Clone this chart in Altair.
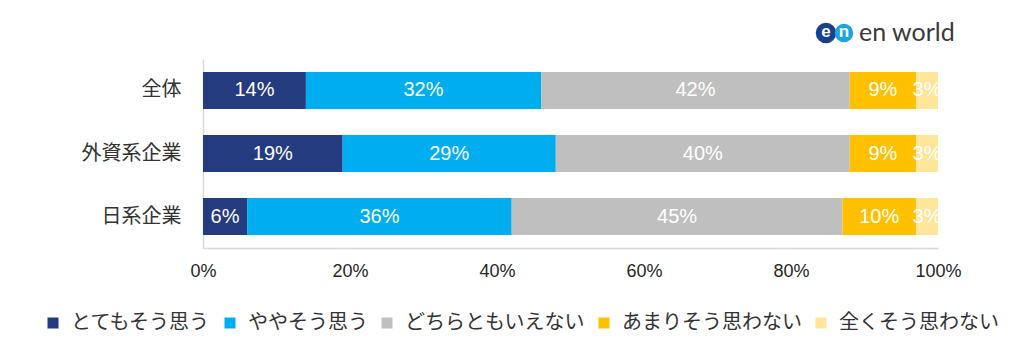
import altair as alt
import pandas as pd

categories = ["全体", "外資系企業", "日系企業"]
responses = ["とてもそう思う", "ややそう思う", "どちらともいえない", "あまりそう思わない", "全くそう思わない"]
vals_total = [14, 32, 42, 9, 3]
vals_foreign = [19, 29, 40, 9, 3]
vals_japan = [6, 36, 45, 10, 3]
colors = ["#253B80", "#00AEEF", "#BFBFBF", "#FFC000", "#FFE699"]
x_ticks = [0, 20, 40, 60, 80, 100]

rows = []
for cat, vals in zip(categories, [vals_total, vals_foreign, vals_japan]):
    for i, (r, v) in enumerate(zip(responses, vals)):
        rows.append({"cat": cat, "resp": r, "value": v, "order": i})
df = pd.DataFrame(rows)

JP = "Noto Sans CJK JP"
LAT = "Liberation Sans"

yscale = alt.Scale(paddingInner=0.413, paddingOuter=0.206)
xscale = alt.Scale(domain=[0, 100], nice=False)

base = alt.Chart(df)

bars = base.mark_bar().encode(
    y=alt.Y("cat:N", sort=categories, scale=yscale,
            axis=alt.Axis(title=None, ticks=False, domainColor="#D9D9D9", domainWidth=1.5,
                          labelFont=JP, labelFontSize=20, labelColor="#333333",
                          labelPadding=22)),
    x=alt.X("value:Q", stack="zero", scale=xscale,
            axis=alt.Axis(title=None, values=x_ticks, ticks=False, grid=False,
                          domainColor="#D9D9D9", domainWidth=1.5, labelFlush=False,
                          labelExpr="datum.value + '%'", labelFont=LAT,
                          labelFontSize=18, labelColor="#262626", labelPadding=14)),
    color=alt.Color("resp:N", sort=responses,
                    scale=alt.Scale(domain=responses, range=colors),
                    legend=alt.Legend(title=None, orient="none", legendX=-160, legendY=254,
                                      direction="horizontal", symbolType="square",
                                      symbolSize=121, symbolStrokeWidth=0,
                                      labelFont=JP, labelFontSize=20, labelColor="#333333",
                                      labelLimit=400, columnPadding=9, labelOffset=8)),
    order=alt.Order("order:Q"),
)

labels = base.transform_stack(
    stack="value", groupby=["cat"], as_=["x0", "x1"], sort=[alt.SortField("order")]
).transform_calculate(
    mid="(datum.x0 + datum.x1) / 2", label="datum.value + '%'"
).mark_text(color="white", font=LAT, fontSize=20, clip=True, baseline="middle").encode(
    y=alt.Y("cat:N", sort=categories, scale=yscale),
    x=alt.X("mid:Q", scale=xscale),
    text="label:N",
)

logo_data = alt.Data(values=[{"k": 1}])
circ1 = alt.Chart(logo_data).mark_point(filled=True, shape="circle", size=420, opacity=1).encode(
    x=alt.value(623), y=alt.value(-26), color=alt.value("#1B3F8F"))
circ2 = alt.Chart(logo_data).mark_point(filled=True, shape="circle", size=340, opacity=1).encode(
    x=alt.value(641), y=alt.value(-26), color=alt.value("#1AA7E0"))
e_txt = alt.Chart(logo_data).mark_text(text="e", color="white", font=LAT, fontSize=17,
                                       fontWeight="bold", baseline="middle").encode(
    x=alt.value(623), y=alt.value(-27))
n_txt = alt.Chart(logo_data).mark_text(text="n", color="white", font=LAT, fontSize=17,
                                       fontWeight="bold", baseline="middle").encode(
    x=alt.value(641), y=alt.value(-27))
brand = alt.Chart(logo_data).mark_text(text="en world", color="#3A3A3A", font="Lato",
                                       fontSize=25, align="left", baseline="middle").encode(
    x=alt.value(656), y=alt.value(-26))

chart = alt.layer(bars, labels, circ1, circ2, e_txt, n_txt, brand).properties(
    width=735, height=189,
    autosize=alt.AutoSizeParams(type="none"),
    padding={"left": 203, "top": 59, "right": 83, "bottom": 96},
    background="white",
).configure_view(stroke=None)

chart.save("out.html", embed_options={"renderer": "svg", "actions": False})
